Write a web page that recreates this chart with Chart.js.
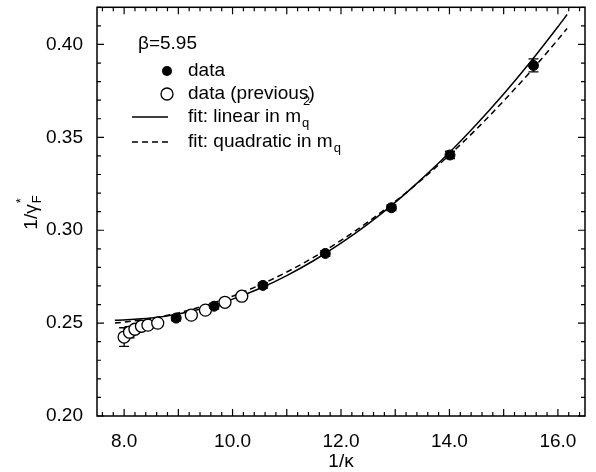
<!DOCTYPE html>
<html>
<head>
<meta charset="utf-8">
<script src="https://cdn.jsdelivr.net/npm/chart.js@4.4.1/dist/chart.umd.min.js"></script>
<style>html,body{margin:0;padding:0;background:#fff}</style>
</head>
<body>
<canvas id="myChart" width="596" height="472"></canvas>
<script>
// data (this work)
var xNew = [8.96, 9.66, 10.56, 11.71, 12.93, 14.01, 15.55];
var yNew = [0.2527, 0.2591, 0.2703, 0.2875, 0.3121, 0.3405, 0.3887];
var eNew = [0.0015, 0.0015, 0.0015, 0.0015, 0.0015, 0.002, 0.0035];
// data (previous)
var xOld = [8.00, 8.10, 8.20, 8.32, 8.44, 8.62, 9.24, 9.50, 9.86, 10.17];
var yOld = [0.2425, 0.2451, 0.2467, 0.2483, 0.2489, 0.2500, 0.2543, 0.2570, 0.2612, 0.2645];
var eOld = [0.005, 0.003, 0.002, 0.002, 0.0015, 0.0015, 0.0015, 0.0015, 0.0015, 0.0015];
// fit curves
var xFit  = [7.83, 8.5, 9.0, 9.5, 10.0, 10.5, 11.0, 11.5, 12.0, 12.5, 13.0, 13.5, 14.0, 14.5, 15.0, 15.5, 16.0, 16.17];
var yLin  = [0.2515, 0.2527, 0.2549, 0.2583, 0.2629, 0.2686, 0.2756, 0.2837, 0.2930, 0.3034, 0.3150, 0.3279, 0.3418, 0.3570, 0.3733, 0.3908, 0.4095, 0.4161];
var yQuad = [0.2500, 0.2525, 0.2555, 0.2595, 0.2645, 0.2705, 0.2775, 0.2855, 0.2945, 0.3045, 0.3155, 0.3275, 0.3405, 0.3545, 0.3696, 0.3856, 0.4026, 0.4086];
// tick labels
var xTicks = [8, 10, 12, 14, 16];
var yTicks = [0.20, 0.25, 0.30, 0.35, 0.40];

function pts(xs, ys) {
  return xs.map(function(x, i) { return {x: x, y: ys[i]}; });
}

var FONT = "'Liberation Sans', Arial, sans-serif";
Chart.defaults.font.family = FONT;
Chart.defaults.font.size = 19;
Chart.defaults.color = '#000';

var errBars = {
  id: 'errBars',
  beforeDatasetsDraw: function(chart) {
    var c = chart.ctx, xs = chart.scales.x, ys = chart.scales.y;
    c.save();
    c.strokeStyle = '#000';
    c.lineWidth = 1.3;
    [[xNew, yNew, eNew], [xOld, yOld, eOld]].forEach(function(s) {
      s[0].forEach(function(x, i) {
        var px = xs.getPixelForValue(x);
        var p1 = ys.getPixelForValue(s[1][i] - s[2][i]);
        var p2 = ys.getPixelForValue(s[1][i] + s[2][i]);
        c.beginPath();
        c.moveTo(px, p1); c.lineTo(px, p2);
        c.moveTo(px - 5, p1); c.lineTo(px + 5, p1);
        c.moveTo(px - 5, p2); c.lineTo(px + 5, p2);
        c.stroke();
      });
    });
    c.restore();
  }
};

var frame = {
  id: 'frame',
  afterDraw: function(chart) {
    var c = chart.ctx, a = chart.chartArea, xs = chart.scales.x, ys = chart.scales.y;
    c.save();
    c.strokeStyle = '#000';
    c.lineWidth = 1.5;
    c.strokeRect(a.left, a.top, a.right - a.left, a.bottom - a.top);
    c.lineWidth = 1.2;
    c.beginPath();
    for (var i = 38; i <= 82; i++) {
      var px = xs.getPixelForValue(i * 0.2);
      var len = (i % 5 === 0) ? 7 : 4;
      c.moveTo(px, a.bottom); c.lineTo(px, a.bottom - len);
      c.moveTo(px, a.top); c.lineTo(px, a.top + len);
    }
    for (var j = 20; j <= 42; j++) {
      var py = ys.getPixelForValue(j * 0.01);
      var l2 = (j % 5 === 0) ? 7 : 4;
      c.moveTo(a.left, py); c.lineTo(a.left + l2, py);
      c.moveTo(a.right, py); c.lineTo(a.right - l2, py);
    }
    c.stroke();

    // y axis title 1/γF*
    c.fillStyle = '#000';
    c.save();
    c.translate(30, 212);
    c.rotate(-Math.PI / 2);
    c.font = "19px " + FONT;
    c.textBaseline = 'alphabetic';
    var main = '1/\u03b3';
    var w = c.measureText(main).width;
    var x0 = -(w + 10) / 2;
    c.fillText(main, x0, 7);
    c.font = "13px " + FONT;
    c.fillText('F', x0 + w + 1, 11);
    c.fillText('*', x0 + w + 1, -5);
    c.restore();

    // x axis title
    c.font = "19px " + FONT;
    c.textAlign = 'center';
    c.textBaseline = 'middle';
    c.fillText('1/\u03ba', (a.left + a.right) / 2, 462);

    // legend
    c.textAlign = 'left';
    c.fillText('\u03b2=5.95', 138, 44);
    c.fillText('data', 188, 71);
    c.fillText('data (previous)', 188, 94);
    c.fillText('fit: linear in m', 188, 117);
    c.fillText('fit: quadratic in m', 188, 142);
    var w1 = c.measureText('fit: linear in m').width;
    var w2 = c.measureText('fit: quadratic in m').width;
    c.font = "13px " + FONT;
    c.textBaseline = 'alphabetic';
    c.fillText('q', 188 + w1 + 1, 127);
    c.fillText('2', 188 + w1 + 2, 105);
    c.fillText('q', 188 + w2 + 1, 152);

    c.beginPath();
    c.arc(167, 71, 5, 0, Math.PI * 2);
    c.fill();
    c.beginPath();
    c.lineWidth = 1.3;
    c.arc(167, 94, 6, 0, Math.PI * 2);
    c.stroke();
    c.lineWidth = 1.5;
    c.beginPath();
    c.moveTo(132, 117); c.lineTo(168, 117);
    c.stroke();
    c.setLineDash([6, 4]);
    c.beginPath();
    c.moveTo(132, 142); c.lineTo(168, 142);
    c.stroke();
    c.restore();
  }
};

var ctx = document.getElementById('myChart').getContext('2d');
var myChart = new Chart(ctx, {
  type: 'scatter',
  data: {
    datasets: [{
      label: 'data',
      data: pts(xNew, yNew),
      pointRadius: 5,
      pointBackgroundColor: '#000',
      pointBorderColor: '#000',
      pointBorderWidth: 1,
      order: 1
    }, {
      label: 'data (previous)',
      data: pts(xOld, yOld),
      pointRadius: 6,
      pointBackgroundColor: '#fff',
      pointBorderColor: '#000',
      pointBorderWidth: 1.3,
      order: 2
    }, {
      label: 'fit: linear in mq2',
      type: 'line',
      data: pts(xFit, yLin),
      borderColor: '#000',
      borderWidth: 1.5,
      pointRadius: 0,
      cubicInterpolationMode: 'monotone',
      fill: false,
      order: 3
    }, {
      label: 'fit: quadratic in mq',
      type: 'line',
      data: pts(xFit, yQuad),
      borderColor: '#000',
      borderWidth: 1.5,
      borderDash: [6, 4],
      pointRadius: 0,
      cubicInterpolationMode: 'monotone',
      fill: false,
      order: 4
    }]
  },
  options: {
    responsive: false,
    animation: false,
    layout: {padding: {left: 0, right: 11, top: 7, bottom: 0}},
    plugins: {legend: {display: false}, tooltip: {enabled: false}},
    scales: {
      x: {
        type: 'linear',
        min: 7.5,
        max: 16.5,
        grid: {display: false, drawTicks: false},
        border: {display: false},
        afterBuildTicks: function(s) { s.ticks = xTicks.map(function(v) { return {value: v}; }); },
        afterFit: function(s) { s.height = 56; s.paddingLeft = 0; s.paddingRight = 0; },
        ticks: {padding: 14, maxRotation: 0, callback: function(v) { return v.toFixed(1); }}
      },
      y: {
        type: 'linear',
        min: 0.20,
        max: 0.42,
        grid: {display: false, drawTicks: false},
        border: {display: false},
        afterBuildTicks: function(s) { s.ticks = yTicks.map(function(v) { return {value: v}; }); },
        afterFit: function(s) { s.width = 97; s.paddingTop = 0; s.paddingBottom = 0; },
        ticks: {padding: 14, callback: function(v) { return v.toFixed(2); }}
      }
    }
  },
  plugins: [errBars, frame]
});
</script>
</body>
</html>
